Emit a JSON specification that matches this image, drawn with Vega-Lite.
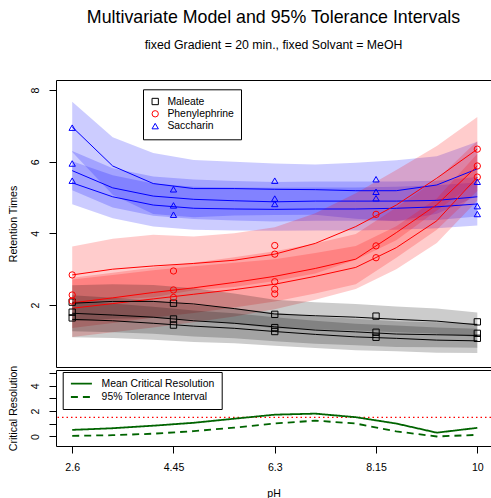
{
  "$schema": "https://vega.github.io/schema/vega-lite/v6.json",
  "background": "white",
  "padding": {"left": 7, "top": 8, "right": 0, "bottom": 0},
  "config": {
    "font": "Liberation Sans",
    "view": {"stroke": null},
    "axis": {
      "labelFont": "Liberation Sans", "titleFont": "Liberation Sans",
      "labelFontSize": 10.6, "titleFontSize": 10.6, "titleFontWeight": "normal",
      "labelColor": "black", "titleColor": "black", "domainColor": "black", "tickColor": "black",
      "grid": false, "tickSize": 7, "domainWidth": 1, "tickWidth": 1
    },
    "legend": {"labelFont": "Liberation Sans", "labelColor": "black"}
  },
  "resolve": {
    "scale": {"color": "independent", "shape": "independent", "strokeDash": "independent", "fill": "independent", "stroke": "independent"},
    "legend": {"color": "independent", "shape": "independent", "strokeDash": "independent"}
  },
  "datasets": {
    "bands": [
      {"compound":"Saccharin","series":"S1","pH":2.6,"fit":6.97,"lo":6.27,"hi":7.67},
      {"compound":"Saccharin","series":"S1","pH":3.34,"fit":5.88,"lo":5.08,"hi":6.68},
      {"compound":"Saccharin","series":"S1","pH":4.08,"fit":5.39,"lo":4.54,"hi":6.24},
      {"compound":"Saccharin","series":"S1","pH":4.82,"fit":5.25,"lo":4.45,"hi":6.05},
      {"compound":"Saccharin","series":"S1","pH":5.56,"fit":5.25,"lo":4.5,"hi":6.0},
      {"compound":"Saccharin","series":"S1","pH":6.3,"fit":5.23,"lo":4.51,"hi":5.95},
      {"compound":"Saccharin","series":"S1","pH":7.04,"fit":5.22,"lo":4.52,"hi":5.92},
      {"compound":"Saccharin","series":"S1","pH":7.78,"fit":5.19,"lo":4.41,"hi":5.97},
      {"compound":"Saccharin","series":"S1","pH":8.52,"fit":5.19,"lo":4.34,"hi":6.04},
      {"compound":"Saccharin","series":"S1","pH":9.26,"fit":5.35,"lo":4.55,"hi":6.15},
      {"compound":"Saccharin","series":"S1","pH":10,"fit":5.8,"lo":5.04,"hi":6.56},
      {"compound":"Saccharin","series":"S2","pH":2.6,"fit":5.75,"lo":5.2,"hi":6.3},
      {"compound":"Saccharin","series":"S2","pH":3.34,"fit":5.27,"lo":4.72,"hi":5.82},
      {"compound":"Saccharin","series":"S2","pH":4.08,"fit":5.04,"lo":4.49,"hi":5.59},
      {"compound":"Saccharin","series":"S2","pH":4.82,"fit":4.95,"lo":4.4,"hi":5.5},
      {"compound":"Saccharin","series":"S2","pH":5.56,"fit":4.91,"lo":4.36,"hi":5.46},
      {"compound":"Saccharin","series":"S2","pH":6.3,"fit":4.88,"lo":4.33,"hi":5.43},
      {"compound":"Saccharin","series":"S2","pH":7.04,"fit":4.9,"lo":4.35,"hi":5.45},
      {"compound":"Saccharin","series":"S2","pH":7.78,"fit":4.9,"lo":4.35,"hi":5.45},
      {"compound":"Saccharin","series":"S2","pH":8.52,"fit":4.9,"lo":4.35,"hi":5.45},
      {"compound":"Saccharin","series":"S2","pH":9.26,"fit":4.92,"lo":4.37,"hi":5.47},
      {"compound":"Saccharin","series":"S2","pH":10,"fit":5.02,"lo":4.47,"hi":5.57},
      {"compound":"Saccharin","series":"S3","pH":2.6,"fit":5.41,"lo":4.81,"hi":6.01},
      {"compound":"Saccharin","series":"S3","pH":3.34,"fit":5.02,"lo":4.42,"hi":5.62},
      {"compound":"Saccharin","series":"S3","pH":4.08,"fit":4.79,"lo":4.19,"hi":5.39},
      {"compound":"Saccharin","series":"S3","pH":4.82,"fit":4.7,"lo":4.1,"hi":5.3},
      {"compound":"Saccharin","series":"S3","pH":5.56,"fit":4.68,"lo":4.08,"hi":5.28},
      {"compound":"Saccharin","series":"S3","pH":6.3,"fit":4.67,"lo":4.07,"hi":5.27},
      {"compound":"Saccharin","series":"S3","pH":7.04,"fit":4.68,"lo":4.08,"hi":5.28},
      {"compound":"Saccharin","series":"S3","pH":7.78,"fit":4.68,"lo":4.08,"hi":5.28},
      {"compound":"Saccharin","series":"S3","pH":8.52,"fit":4.7,"lo":4.1,"hi":5.3},
      {"compound":"Saccharin","series":"S3","pH":9.26,"fit":4.74,"lo":4.14,"hi":5.34},
      {"compound":"Saccharin","series":"S3","pH":10,"fit":4.82,"lo":4.22,"hi":5.42},
      {"compound":"Phenylephrine","series":"P1","pH":2.6,"fit":2.84,"lo":2.05,"hi":3.63},
      {"compound":"Phenylephrine","series":"P1","pH":3.34,"fit":3.0,"lo":2.15,"hi":3.85},
      {"compound":"Phenylephrine","series":"P1","pH":4.08,"fit":3.09,"lo":2.22,"hi":3.96},
      {"compound":"Phenylephrine","series":"P1","pH":4.82,"fit":3.16,"lo":2.41,"hi":3.91},
      {"compound":"Phenylephrine","series":"P1","pH":5.56,"fit":3.25,"lo":2.5,"hi":4.0},
      {"compound":"Phenylephrine","series":"P1","pH":6.3,"fit":3.42,"lo":2.67,"hi":4.17},
      {"compound":"Phenylephrine","series":"P1","pH":7.04,"fit":3.72,"lo":2.88,"hi":4.56},
      {"compound":"Phenylephrine","series":"P1","pH":7.78,"fit":4.19,"lo":3.26,"hi":5.12},
      {"compound":"Phenylephrine","series":"P1","pH":8.52,"fit":4.79,"lo":3.81,"hi":5.77},
      {"compound":"Phenylephrine","series":"P1","pH":9.26,"fit":5.54,"lo":4.64,"hi":6.44},
      {"compound":"Phenylephrine","series":"P1","pH":10,"fit":6.35,"lo":5.45,"hi":7.25},
      {"compound":"Phenylephrine","series":"P2","pH":2.6,"fit":2.06,"lo":1.36,"hi":2.76},
      {"compound":"Phenylephrine","series":"P2","pH":3.34,"fit":2.2,"lo":1.5,"hi":2.9},
      {"compound":"Phenylephrine","series":"P2","pH":4.08,"fit":2.35,"lo":1.65,"hi":3.05},
      {"compound":"Phenylephrine","series":"P2","pH":4.82,"fit":2.48,"lo":1.78,"hi":3.18},
      {"compound":"Phenylephrine","series":"P2","pH":5.56,"fit":2.63,"lo":1.93,"hi":3.33},
      {"compound":"Phenylephrine","series":"P2","pH":6.3,"fit":2.8,"lo":2.1,"hi":3.5},
      {"compound":"Phenylephrine","series":"P2","pH":7.04,"fit":3.02,"lo":2.32,"hi":3.72},
      {"compound":"Phenylephrine","series":"P2","pH":7.78,"fit":3.28,"lo":2.58,"hi":3.98},
      {"compound":"Phenylephrine","series":"P2","pH":8.52,"fit":4.02,"lo":3.32,"hi":4.72},
      {"compound":"Phenylephrine","series":"P2","pH":9.26,"fit":4.8,"lo":4.1,"hi":5.5},
      {"compound":"Phenylephrine","series":"P2","pH":10,"fit":5.88,"lo":5.18,"hi":6.58},
      {"compound":"Phenylephrine","series":"P3","pH":2.6,"fit":1.91,"lo":1.11,"hi":2.71},
      {"compound":"Phenylephrine","series":"P3","pH":3.34,"fit":2.04,"lo":1.24,"hi":2.84},
      {"compound":"Phenylephrine","series":"P3","pH":4.08,"fit":2.17,"lo":1.37,"hi":2.97},
      {"compound":"Phenylephrine","series":"P3","pH":4.82,"fit":2.3,"lo":1.52,"hi":3.08},
      {"compound":"Phenylephrine","series":"P3","pH":5.56,"fit":2.43,"lo":1.68,"hi":3.18},
      {"compound":"Phenylephrine","series":"P3","pH":6.3,"fit":2.58,"lo":1.88,"hi":3.28},
      {"compound":"Phenylephrine","series":"P3","pH":7.04,"fit":2.8,"lo":2.15,"hi":3.45},
      {"compound":"Phenylephrine","series":"P3","pH":7.78,"fit":3.05,"lo":2.45,"hi":3.65},
      {"compound":"Phenylephrine","series":"P3","pH":8.52,"fit":3.6,"lo":3.0,"hi":4.2},
      {"compound":"Phenylephrine","series":"P3","pH":9.26,"fit":4.35,"lo":3.73,"hi":4.97},
      {"compound":"Phenylephrine","series":"P3","pH":10,"fit":5.57,"lo":4.92,"hi":6.22},
      {"compound":"Maleate","series":"M1","pH":2.6,"fit":2.05,"lo":1.55,"hi":2.55},
      {"compound":"Maleate","series":"M1","pH":3.34,"fit":2.1,"lo":1.62,"hi":2.58},
      {"compound":"Maleate","series":"M1","pH":4.08,"fit":2.1,"lo":1.64,"hi":2.56},
      {"compound":"Maleate","series":"M1","pH":4.82,"fit":2.03,"lo":1.59,"hi":2.47},
      {"compound":"Maleate","series":"M1","pH":5.56,"fit":1.9,"lo":1.48,"hi":2.32},
      {"compound":"Maleate","series":"M1","pH":6.3,"fit":1.75,"lo":1.35,"hi":2.15},
      {"compound":"Maleate","series":"M1","pH":7.04,"fit":1.7,"lo":1.32,"hi":2.08},
      {"compound":"Maleate","series":"M1","pH":7.78,"fit":1.66,"lo":1.29,"hi":2.03},
      {"compound":"Maleate","series":"M1","pH":8.52,"fit":1.6,"lo":1.24,"hi":1.96},
      {"compound":"Maleate","series":"M1","pH":9.26,"fit":1.55,"lo":1.2,"hi":1.9},
      {"compound":"Maleate","series":"M1","pH":10,"fit":1.45,"lo":1.11,"hi":1.79},
      {"compound":"Maleate","series":"M2","pH":2.6,"fit":1.77,"lo":1.27,"hi":2.27},
      {"compound":"Maleate","series":"M2","pH":3.34,"fit":1.72,"lo":1.24,"hi":2.2},
      {"compound":"Maleate","series":"M2","pH":4.08,"fit":1.66,"lo":1.2,"hi":2.12},
      {"compound":"Maleate","series":"M2","pH":4.82,"fit":1.56,"lo":1.12,"hi":2.0},
      {"compound":"Maleate","series":"M2","pH":5.56,"fit":1.49,"lo":1.07,"hi":1.91},
      {"compound":"Maleate","series":"M2","pH":6.3,"fit":1.39,"lo":0.99,"hi":1.79},
      {"compound":"Maleate","series":"M2","pH":7.04,"fit":1.3,"lo":0.92,"hi":1.68},
      {"compound":"Maleate","series":"M2","pH":7.78,"fit":1.25,"lo":0.88,"hi":1.62},
      {"compound":"Maleate","series":"M2","pH":8.52,"fit":1.19,"lo":0.83,"hi":1.55},
      {"compound":"Maleate","series":"M2","pH":9.26,"fit":1.17,"lo":0.82,"hi":1.52},
      {"compound":"Maleate","series":"M2","pH":10,"fit":1.15,"lo":0.81,"hi":1.49},
      {"compound":"Maleate","series":"M3","pH":2.6,"fit":1.6,"lo":1.1,"hi":2.1},
      {"compound":"Maleate","series":"M3","pH":3.34,"fit":1.56,"lo":1.08,"hi":2.04},
      {"compound":"Maleate","series":"M3","pH":4.08,"fit":1.49,"lo":1.03,"hi":1.95},
      {"compound":"Maleate","series":"M3","pH":4.82,"fit":1.41,"lo":0.97,"hi":1.85},
      {"compound":"Maleate","series":"M3","pH":5.56,"fit":1.35,"lo":0.93,"hi":1.77},
      {"compound":"Maleate","series":"M3","pH":6.3,"fit":1.26,"lo":0.86,"hi":1.66},
      {"compound":"Maleate","series":"M3","pH":7.04,"fit":1.18,"lo":0.8,"hi":1.56},
      {"compound":"Maleate","series":"M3","pH":7.78,"fit":1.11,"lo":0.74,"hi":1.48},
      {"compound":"Maleate","series":"M3","pH":8.52,"fit":1.07,"lo":0.71,"hi":1.43},
      {"compound":"Maleate","series":"M3","pH":9.26,"fit":1.02,"lo":0.67,"hi":1.37},
      {"compound":"Maleate","series":"M3","pH":10,"fit":1.0,"lo":0.66,"hi":1.34}
    ],
    "pts": [
      {"compound":"Maleate","pH":2.6,"rt":2.08},
      {"compound":"Maleate","pH":2.6,"rt":1.8},
      {"compound":"Maleate","pH":2.6,"rt":1.64},
      {"compound":"Maleate","pH":4.45,"rt":2.05},
      {"compound":"Maleate","pH":4.45,"rt":1.61},
      {"compound":"Maleate","pH":4.45,"rt":1.44},
      {"compound":"Maleate","pH":6.3,"rt":1.74},
      {"compound":"Maleate","pH":6.3,"rt":1.37},
      {"compound":"Maleate","pH":6.3,"rt":1.26},
      {"compound":"Maleate","pH":8.15,"rt":1.69},
      {"compound":"Maleate","pH":8.15,"rt":1.24},
      {"compound":"Maleate","pH":8.15,"rt":1.1},
      {"compound":"Maleate","pH":10,"rt":1.53},
      {"compound":"Maleate","pH":10,"rt":1.21},
      {"compound":"Maleate","pH":10,"rt":1.07},
      {"compound":"Phenylephrine","pH":2.6,"rt":2.84},
      {"compound":"Phenylephrine","pH":2.6,"rt":2.28},
      {"compound":"Phenylephrine","pH":2.6,"rt":2.11},
      {"compound":"Phenylephrine","pH":4.45,"rt":2.95},
      {"compound":"Phenylephrine","pH":4.45,"rt":2.42},
      {"compound":"Phenylephrine","pH":4.45,"rt":2.21},
      {"compound":"Phenylephrine","pH":6.3,"rt":3.66},
      {"compound":"Phenylephrine","pH":6.3,"rt":3.42},
      {"compound":"Phenylephrine","pH":6.3,"rt":2.65},
      {"compound":"Phenylephrine","pH":6.3,"rt":2.44},
      {"compound":"Phenylephrine","pH":6.3,"rt":2.31},
      {"compound":"Phenylephrine","pH":8.15,"rt":4.53},
      {"compound":"Phenylephrine","pH":8.15,"rt":3.65},
      {"compound":"Phenylephrine","pH":8.15,"rt":3.32},
      {"compound":"Phenylephrine","pH":10,"rt":6.35},
      {"compound":"Phenylephrine","pH":10,"rt":5.88},
      {"compound":"Phenylephrine","pH":10,"rt":5.57},
      {"compound":"Saccharin","pH":2.6,"rt":6.95},
      {"compound":"Saccharin","pH":2.6,"rt":5.95},
      {"compound":"Saccharin","pH":2.6,"rt":5.47},
      {"compound":"Saccharin","pH":4.45,"rt":5.23},
      {"compound":"Saccharin","pH":4.45,"rt":4.78},
      {"compound":"Saccharin","pH":4.45,"rt":4.52},
      {"compound":"Saccharin","pH":6.3,"rt":5.47},
      {"compound":"Saccharin","pH":6.3,"rt":4.97},
      {"compound":"Saccharin","pH":6.3,"rt":4.82},
      {"compound":"Saccharin","pH":8.15,"rt":5.51},
      {"compound":"Saccharin","pH":8.15,"rt":5.16},
      {"compound":"Saccharin","pH":8.15,"rt":4.98},
      {"compound":"Saccharin","pH":10,"rt":5.44},
      {"compound":"Saccharin","pH":10,"rt":4.76},
      {"compound":"Saccharin","pH":10,"rt":4.54}
    ],
    "cr": [
      {"pH":2.6,"kind":"Mean Critical Resolution","value":0.52},
      {"pH":3.34,"kind":"Mean Critical Resolution","value":0.65},
      {"pH":4.08,"kind":"Mean Critical Resolution","value":0.85},
      {"pH":4.82,"kind":"Mean Critical Resolution","value":1.08},
      {"pH":5.56,"kind":"Mean Critical Resolution","value":1.4},
      {"pH":6.3,"kind":"Mean Critical Resolution","value":1.72},
      {"pH":7.04,"kind":"Mean Critical Resolution","value":1.8},
      {"pH":7.78,"kind":"Mean Critical Resolution","value":1.52},
      {"pH":8.52,"kind":"Mean Critical Resolution","value":1.02},
      {"pH":9.26,"kind":"Mean Critical Resolution","value":0.3},
      {"pH":10,"kind":"Mean Critical Resolution","value":0.68},
      {"pH":2.6,"kind":"95% Tolerance Interval","value":0.05},
      {"pH":3.34,"kind":"95% Tolerance Interval","value":0.1},
      {"pH":4.08,"kind":"95% Tolerance Interval","value":0.22},
      {"pH":4.82,"kind":"95% Tolerance Interval","value":0.42},
      {"pH":5.56,"kind":"95% Tolerance Interval","value":0.7},
      {"pH":6.3,"kind":"95% Tolerance Interval","value":1.02},
      {"pH":7.04,"kind":"95% Tolerance Interval","value":1.25},
      {"pH":7.78,"kind":"95% Tolerance Interval","value":1.02},
      {"pH":8.52,"kind":"95% Tolerance Interval","value":0.4},
      {"pH":9.26,"kind":"95% Tolerance Interval","value":0.0},
      {"pH":10,"kind":"95% Tolerance Interval","value":0.13}
    ],
    "threshold": [
      {"level": 1.5}
    ]
  },
  "spacing": 3,
  "bounds": "flush",
  "vconcat": [
    {
      "width": 435,
      "height": 287,
      "title": {
        "text": "Multivariate Model and 95% Tolerance Intervals",
        "subtitle": "fixed Gradient = 20 min., fixed Solvant = MeOH",
        "anchor": "middle", "frame": "group",
        "font": "Liberation Sans", "subtitleFont": "Liberation Sans",
        "fontSize": 17.8, "subtitleFontSize": 12.3, "fontWeight": "normal",
        "color": "black", "subtitleColor": "black",
        "offset": 29, "subtitlePadding": 12
      },
      "resolve": {"axis": {"x": "independent"}},
      "layer": [
        {
          "data": {"name": "bands"},
          "mark": {"type": "area", "opacity": 0.2, "clip": true},
          "encoding": {
            "x": {"field": "pH", "type": "quantitative", "scale": {"domain": [2.304, 10.25], "nice": false, "zero": false},
                  "axis": {"orient": "bottom", "labels": false, "ticks": false, "title": null, "minExtent": 0, "maxExtent": 0}},
            "y": {"field": "hi", "type": "quantitative", "title": "Retention Times",
                  "scale": {"domain": [0.27, 8.28], "nice": false, "zero": false},
                  "axis": {"values": [2, 4, 6, 8], "labelAngle": -90, "labelAlign": "center", "labelBaseline": "bottom", "labelPadding": 9, "titlePadding": 12, "labelOverlap": false}},
            "y2": {"field": "lo"},
            "fill": {"field": "compound", "type": "nominal", "legend": null,
                     "scale": {"range": ["#000000", "#FF0000", "#0000FF"]}},
            "detail": {"field": "series"}
          }
        },
        {
          "data": {"name": "bands"},
          "mark": {"type": "line", "strokeWidth": 1, "clip": true},
          "encoding": {
            "x": {"field": "pH", "type": "quantitative",
                  "axis": {"orient": "top", "labels": false, "ticks": false, "title": null, "minExtent": 0, "maxExtent": 0}},
            "y": {"field": "fit", "type": "quantitative", "title": "Retention Times"},
            "stroke": {"field": "compound", "type": "nominal", "legend": null,
                       "scale": {"range": ["#000000", "#FF0000", "#0000FF"]}},
            "detail": {"field": "series"}
          }
        },
        {
          "data": {"name": "pts"},
          "mark": {"type": "point", "filled": false, "size": 40, "strokeWidth": 1, "opacity": 1},
          "encoding": {
            "x": {"field": "pH", "type": "quantitative", "axis": null},
            "y": {"field": "rt", "type": "quantitative", "title": "Retention Times"},
            "color": {"field": "compound", "type": "nominal",
                      "scale": {"domain": ["Maleate", "Phenylephrine", "Saccharin"], "range": ["#000000", "#FF0000", "#0000FF"]},
                      "legend": {"title": null, "orient": "none", "legendX": 87, "legendY": 9.3, "strokeColor": "black", "fillColor": "white", "padding": 7, "labelFontSize": 10.4, "symbolSize": 40, "symbolStrokeWidth": 1, "labelOffset": 7, "rowPadding": 1.3}},
            "shape": {"field": "compound", "type": "nominal",
                      "scale": {"domain": ["Maleate", "Phenylephrine", "Saccharin"], "range": ["square", "circle", "triangle-up"]},
                      "legend": {"title": null, "orient": "none", "legendX": 87, "legendY": 9.3, "strokeColor": "black", "fillColor": "white", "padding": 7, "labelFontSize": 10.4, "symbolSize": 40, "symbolStrokeWidth": 1, "labelOffset": 7, "rowPadding": 1.3}}
          }
        }
      ]
    },
    {
      "width": 435,
      "height": 76,
      "resolve": {"axis": {"x": "independent"}},
      "layer": [
        {
          "data": {"name": "threshold"},
          "mark": {"type": "rule", "color": "#FF0000", "strokeDash": [1.5, 3], "strokeWidth": 1.3},
          "encoding": {
            "y": {"field": "level", "type": "quantitative", "title": "Critical Resolution",
                  "scale": {"domain": [-0.75, 5.24], "nice": false, "zero": false},
                  "axis": {"values": [0, 1, 2, 3, 4, 5], "labelExpr": "datum.value % 2 == 0 ? datum.label : ''", "labelOverlap": false, "labelAngle": -90, "labelAlign": "center", "labelBaseline": "bottom", "labelPadding": 9, "titlePadding": 12}}
          }
        },
        {
          "data": {"name": "cr"},
          "transform": [{"filter": "datum.kind == 'Mean Critical Resolution'"}],
          "mark": {"type": "line", "color": "#006400", "strokeWidth": 1.8},
          "encoding": {
            "x": {"field": "pH", "type": "quantitative", "scale": {"domain": [2.304, 10.25], "nice": false, "zero": false},
                  "axis": {"orient": "bottom", "values": [2.6, 4.45, 6.3, 8.15, 10], "format": ".2~f", "title": "pH", "labelPadding": 9.5, "titlePadding": 15}},
            "y": {"field": "value", "type": "quantitative", "title": "Critical Resolution",
                  "axis": {"values": [0, 1, 2, 3, 4, 5], "labelExpr": "datum.value % 2 == 0 ? datum.label : ''", "labelOverlap": false, "labelAngle": -90, "labelAlign": "center", "labelBaseline": "bottom", "labelPadding": 9, "titlePadding": 12}},
            "strokeDash": {"field": "kind", "type": "nominal",
                           "scale": {"domain": ["Mean Critical Resolution", "95% Tolerance Interval"], "range": [[1, 0], [7, 5]]},
                           "legend": {"title": null, "orient": "none", "legendX": 6.7, "legendY": 2, "strokeColor": "black", "fillColor": "white", "padding": 6.5, "labelFontSize": 10.4, "symbolType": "M-1,0H5", "symbolSize": 49, "symbolStrokeWidth": 1.8, "symbolStrokeColor": "#006400", "labelOffset": 22, "rowPadding": 2.3}}
          }
        },
        {
          "data": {"name": "cr"},
          "transform": [{"filter": "datum.kind == '95% Tolerance Interval'"}],
          "mark": {"type": "line", "color": "#006400", "strokeWidth": 1.8},
          "encoding": {
            "x": {"field": "pH", "type": "quantitative",
                  "axis": {"orient": "top", "labels": false, "ticks": false, "title": null, "minExtent": 0, "maxExtent": 0}},
            "y": {"field": "value", "type": "quantitative", "title": "Critical Resolution",
                  "axis": {"values": [0, 1, 2, 3, 4, 5], "labelExpr": "datum.value % 2 == 0 ? datum.label : ''", "labelOverlap": false, "labelAngle": -90, "labelAlign": "center", "labelBaseline": "bottom", "labelPadding": 9, "titlePadding": 12}},
            "strokeDash": {"field": "kind", "type": "nominal"}
          }
        }
      ]
    }
  ]
}
